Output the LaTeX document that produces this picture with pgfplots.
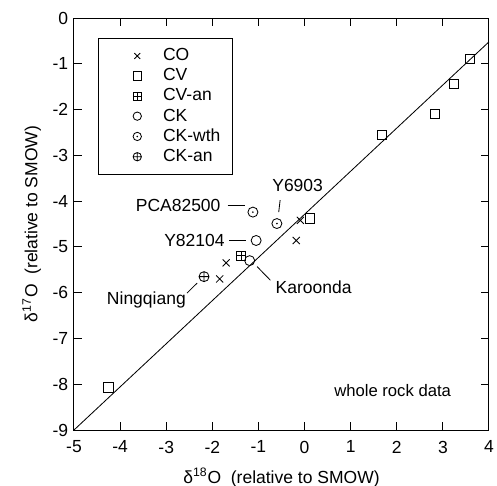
\documentclass[border=0pt]{standalone}
\usepackage{fontspec}
\setmainfont{Liberation Sans}
\usepackage{pgfplots}
\pgfplotsset{compat=1.18}
\pgfdeclareplotmark{odot}{%
  \pgfpathcircle{\pgfpointorigin}{\pgfplotmarksize}\pgfusepathqstroke
  \pgfpathcircle{\pgfpointorigin}{0.55pt}\pgfusepathqfill}
\pgfdeclareplotmark{boxplus}{%
  \pgfpathrectangle{\pgfpoint{-\pgfplotmarksize}{-\pgfplotmarksize}}{\pgfpoint{2\pgfplotmarksize}{2\pgfplotmarksize}}%
  \pgfpathmoveto{\pgfpoint{-\pgfplotmarksize}{0pt}}\pgfpathlineto{\pgfpoint{\pgfplotmarksize}{0pt}}%
  \pgfpathmoveto{\pgfpoint{0pt}{-\pgfplotmarksize}}\pgfpathlineto{\pgfpoint{0pt}{\pgfplotmarksize}}%
  \pgfusepathqstroke}
\begin{document}
\begin{tikzpicture}
\begin{axis}[
  scale only axis,
  width=249pt, height=247.2pt,
  xmin=-5, xmax=4, ymin=-9, ymax=0,
  xtick={-5,...,4}, ytick={-9,...,0},
  tick align=inside,
  major tick length=5pt,
  axis line style={line width=0.6pt},
  tick style={line width=0.6pt, black},
  /pgf/number format/assume math mode=true,
  ticklabel style={font=\fontsize{10.5}{12}\selectfont},
  xticklabel style={yshift=-3pt},
  xlabel={δ\textsuperscript{18}O\ \ (relative to SMOW)},
  ylabel={δ\textsuperscript{17}O\ \ (relative to SMOW)},
  label style={font=\fontsize{10.5}{12}\selectfont},
  xlabel style={yshift=-2pt},
  clip=false,
  legend cell align=left,
  legend style={at={(axis cs:-4.47,-0.44)}, anchor=north west, draw=black, line width=0.6pt,
    font=\fontsize{10.5}{11}\selectfont, inner xsep=5pt, inner ysep=4pt, row sep=-0.8pt,
    /tikz/every odd column/.append style={column sep=11pt}},
  legend image code/.code={\path[draw=none, fill=none] (-18pt,0pt) rectangle (0pt,0.1pt); \draw[#1, line width=0.5pt, mark size=2.5pt] plot coordinates {(0cm,0cm)};},
]
\addplot[black, line width=0.5pt, forget plot] coordinates {(-5,-9) (4,-0.52)};
% CO
\addplot[only marks, mark=x, mark size=3pt, black, line width=0.5pt] coordinates {
 (-0.09,-4.42) (-0.18,-4.86) (-1.70,-5.35) (-1.84,-5.70)};
\addlegendentry{CO}
% CV
\addplot[only marks, mark=square, mark size=2.8pt, black, line width=0.5pt] coordinates {
 (3.58,-0.90) (3.24,-1.44) (2.83,-2.09) (1.68,-2.55) (0.12,-4.38) (-4.25,-8.07)};
\addlegendentry{CV}
% CV-an
\addplot[only marks, mark=boxplus, mark size=2.7pt, black, line width=0.5pt] coordinates {
 (-1.37,-5.19)};
\addlegendentry{CV-an}
% CK
\addplot[only marks, mark=o, mark size=3pt, black, line width=0.5pt] coordinates {
 (-1.05,-4.86) (-1.19,-5.30)};
\addlegendentry{CK}
% CK-wth
\addplot[only marks, mark=odot, mark size=3pt, black, line width=0.5pt] coordinates {
 (-1.12,-4.24) (-0.60,-4.49)};
\addlegendentry{CK-wth}
% CK-an
\addplot[only marks, mark=oplus, mark size=3pt, black, line width=0.5pt] coordinates {
 (-2.18,-5.65)};
\addlegendentry{CK-an}
% annotations
\node[anchor=east, inner sep=1pt, font=\fontsize{10.5}{12}\selectfont] at (axis cs:-1.78,-4.09) {PCA82500};
\draw[line width=0.5pt] (axis cs:-1.67,-4.09) -- (axis cs:-1.30,-4.09);
\node[anchor=east, inner sep=1pt, font=\fontsize{10.5}{12}\selectfont] at (axis cs:-1.69,-4.86) {Y82104};
\draw[line width=0.5pt] (axis cs:-1.63,-4.85) -- (axis cs:-1.28,-4.85);
\node[font=\fontsize{10.5}{12}\selectfont] at (axis cs:-0.15,-3.65) {Y6903};
\draw[line width=0.5pt] (axis cs:-0.53,-3.98) -- (axis cs:-0.56,-4.24);
\draw[line width=0.5pt] (axis cs:-1.03,-5.43) -- (axis cs:-0.74,-5.73);
\node[anchor=west, inner sep=1pt, font=\fontsize{10.5}{12}\selectfont] at (axis cs:-0.67,-5.88) {Karoonda};
\draw[line width=0.5pt] (axis cs:-2.55,-6.01) -- (axis cs:-2.33,-5.79);
\node[font=\fontsize{10.5}{12}\selectfont] at (axis cs:-3.43,-6.17) {Ningqiang};
\node[font=\fontsize{10}{12}\selectfont] at (axis cs:1.91,-8.14) {whole rock data};
\end{axis}
\pgfresetboundingbox
\path[use as bounding box] ([shift={(-44.4pt,-33pt)}]current axis.south west) rectangle ([shift={(4.8pt,10.8pt)}]current axis.north east);
\end{tikzpicture}
\end{document}
